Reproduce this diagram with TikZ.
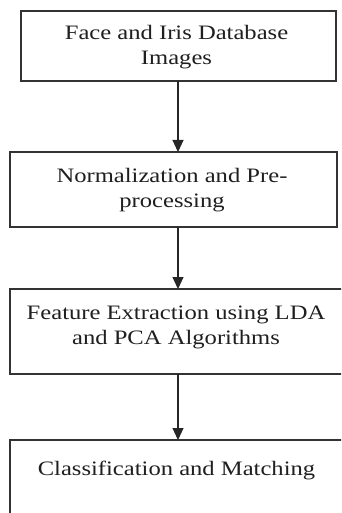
\documentclass[tikz,border=0pt]{standalone}
\usepackage{fontspec}
\setmainfont{Liberation Serif}[FakeStretch=1.2]
\usetikzlibrary{arrows.meta}
\begin{document}
\begin{tikzpicture}[x=1pt,y=-1pt,
  box/.style={draw=black!80, line width=1.2pt, rectangle, inner sep=0pt, outer sep=0pt},
  txt/.style={font=\fontsize{20.5}{25}\selectfont, align=center, inner sep=0pt, text=black!88},
  arr/.style={draw=black!85, line width=1.1pt, -{Triangle[width=11pt,length=12pt]}}]
\useasboundingbox (0,0) rectangle (341,513);
\clip (0,0) rectangle (341,513);
\fill[white] (0,0) rectangle (341,513);
\node[box, minimum width=315pt, minimum height=70pt] (b1) at (178.5,46) {};
\node[box, minimum width=327pt, minimum height=75pt] (b2) at (173.5,189.5) {};
\node[box, minimum width=335pt, minimum height=85pt] (b3) at (177.5,331.5) {};
\node[box, minimum width=335pt, minimum height=90pt] (b4) at (177.5,485) {};
\node[txt, anchor=base] (t1) at (176.5,65) {Face and Iris Database\\Images};
\node[txt, anchor=base] (t2) at (172,207) {Normalization and Pre-\\processing};
\node[txt, anchor=base] (t3) at (176,344) {Feature Extraction using LDA\\and PCA Algorithms};
\node[txt, anchor=base] (t4) at (176.5,475) {Classification and Matching};
\coordinate (ax) at (178,0);
\draw[arr] (ax |- b1.south) -- (ax |- b2.north);
\draw[arr] (ax |- b2.south) -- (ax |- b3.north);
\draw[arr] (ax |- b3.south) -- (ax |- b4.north);
\end{tikzpicture}
\end{document}
